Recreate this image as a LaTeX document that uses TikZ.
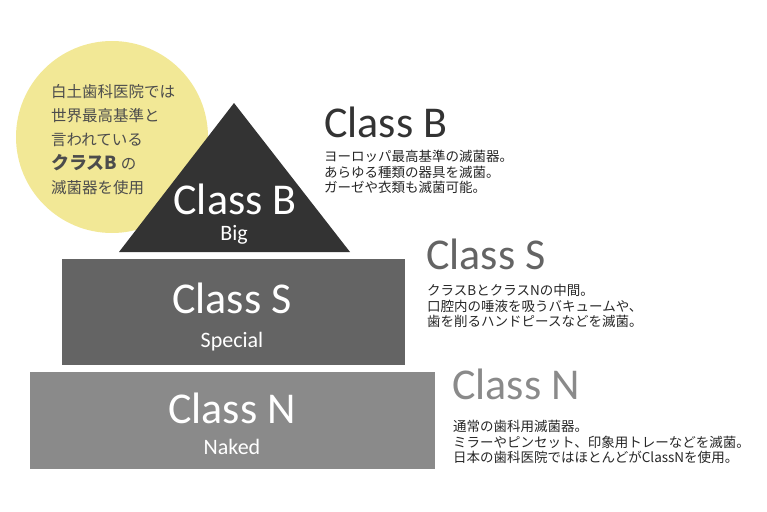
\documentclass[tikz,border=0pt]{standalone}
\usepackage{fontspec}
\setmainfont{Carlito}
\newfontfamily\jp{Noto Sans CJK JP}
\usetikzlibrary{positioning}
\definecolor{tierB}{HTML}{333333}
\definecolor{tierS}{HTML}{646464}
\definecolor{tierN}{HTML}{8A8A8A}
\definecolor{badge}{HTML}{F2E896}
\tikzset{
    class label/.style={text=white, font=\fontsize{44}{44}\selectfont, anchor=base, inner sep=0pt},
    sub label/.style={text=white, font=\fontsize{22}{22}\selectfont, anchor=base, inner sep=0pt},
    head label/.style={font=\fontsize{44}{44}\selectfont, anchor=base west, inner sep=0pt},
    desc/.style={font=\jp\fontsize{13.5}{15.5}\selectfont, align=left, anchor=west, inner sep=0pt, text=black!85},
    common settings/.style={x=1pt, y=-1pt}
}

\begin{document}
\begin{tikzpicture}[common settings]

    \useasboundingbox (0,0) rectangle (767,511);

    % 1. Yellow badge behind the top
    \fill[badge] (112,137) circle (96pt);
    \node[font=\jp\fontsize{15.5}{24}\selectfont, align=left, anchor=west, inner sep=0pt, text=black!70]
        (badgetext) at (51,140)
        {白土歯科医院では\\世界最高基準と\\言われている\\{\fontsize{18}{24}\selectfont\bfseries クラスB} の\\滅菌器を使用};

    % 2. Pyramid tiers
    \fill[tierB] (234,103) -- (350,252) -- (119,252) -- cycle;
    \fill[tierS] (62,259) rectangle (405,365);
    \fill[tierN] (30,372) rectangle (435,469);

    % 3. Labels on the tiers
    \node[class label] (tierBname) at (235,214) {Class B};
    \node[sub label]   (tierBsub)  at (234,240) {Big};
    \node[class label] (tierSname) at (232,313) {Class S};
    \node[sub label]   (tierSsub)  at (232,347) {Special};
    \node[class label] (tierNname) at (232,423) {Class N};
    \node[sub label]   (tierNsub)  at (232,454) {Naked};

    % 4. Headings and notes on the right
    \node[head label, text=tierB] (headB) at (324,137) {Class B};
    \node[desc] (descB) at (324,172)
        {ヨーロッパ最高基準の滅菌器。\\あらゆる種類の器具を滅菌。\\ガーゼや衣類も滅菌可能。};

    \node[head label, text=tierS] (headS) at (426,269) {Class S};
    \node[desc] (descS) at (427,306)
        {クラスBとクラスNの中間。\\口腔内の唾液を吸うバキュームや、\\歯を削るハンドピースなどを滅菌。};

    \node[head label, text=tierN] (headN) at (452,399) {Class N};
    \node[desc] (descN) at (453,442)
        {通常の歯科用滅菌器。\\ミラーやピンセット、印象用トレーなどを滅菌。\\日本の歯科医院ではほとんどがClassNを使用。};

\end{tikzpicture}
\end{document}
